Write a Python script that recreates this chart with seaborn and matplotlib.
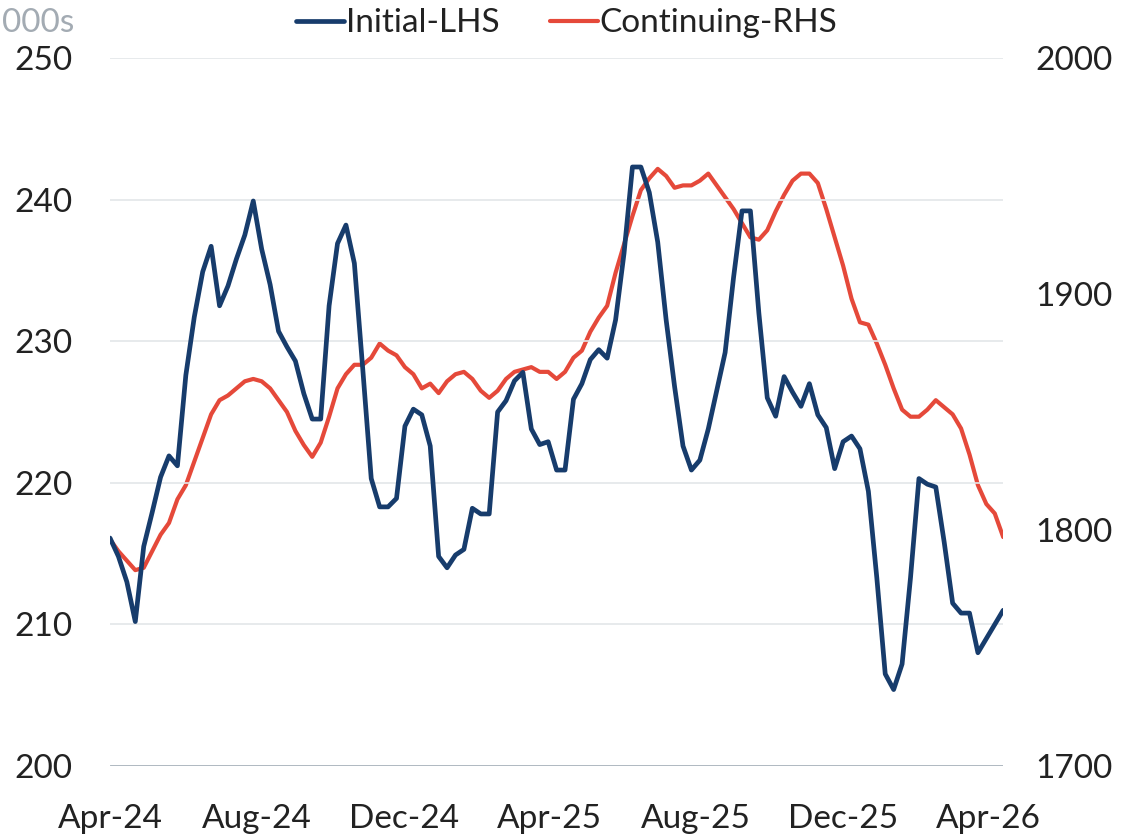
import pandas as pd
import matplotlib.pyplot as plt
import matplotlib.dates as mdates
from matplotlib.ticker import FixedLocator
import seaborn as sns

# Weekly jobless claims, thousands
start_date = '2024-04-06'

initial_lhs = [
    216.1, 214.8, 213.0, 210.2, 215.5, 217.9, 220.4, 221.9, 221.2, 227.6,
    231.7, 234.9, 236.7, 232.5, 233.9, 235.8, 237.5, 239.9, 236.5, 234.0,
    230.7, 229.6, 228.6, 226.3, 224.5, 224.5, 232.5, 236.9, 238.2, 235.5,
    228.0, 220.3, 218.3, 218.3, 218.9, 224.0, 225.2, 224.8, 222.6, 214.8,
    214.0, 214.9, 215.3, 218.2, 217.8, 217.8, 225.0, 225.8, 227.2, 227.8,
    223.8, 222.7, 222.9, 220.9, 220.9, 225.9, 227.0, 228.7, 229.4, 228.8,
    231.5, 236.2, 242.3, 242.3, 240.5, 237.0, 231.5, 226.8, 222.6, 220.9,
    221.6, 223.8, 226.5, 229.2, 234.5, 239.2, 239.2, 232.0, 226.0, 224.7,
    227.5, 226.4, 225.4, 227.0, 224.8, 223.9, 221.0, 222.9, 223.3, 222.4,
    219.4, 213.3, 206.5, 205.4, 207.2, 213.3, 220.3, 219.9, 219.7, 215.8,
    211.5, 210.8, 210.8, 208.0, 209.0, 210.0, 211.0,
]

continuing_rhs = [
    1796, 1791, 1787, 1783, 1784, 1791, 1798, 1803, 1813, 1819,
    1829, 1839, 1849, 1855, 1857, 1860, 1863, 1864, 1863, 1860,
    1855, 1850, 1842, 1836, 1831, 1837, 1848, 1860, 1866, 1870,
    1870, 1873, 1879, 1876, 1874, 1869, 1866, 1860, 1862, 1858,
    1863, 1866, 1867, 1864, 1859, 1856, 1859, 1864, 1867, 1868,
    1869, 1867, 1867, 1864, 1867, 1873, 1876, 1884, 1890, 1895,
    1909, 1921, 1933, 1944, 1949, 1953, 1950, 1945, 1946, 1946,
    1948, 1951, 1946, 1941, 1936, 1930, 1924, 1923, 1927, 1935,
    1942, 1948, 1951, 1951, 1947, 1936, 1924, 1912, 1898, 1888,
    1887, 1879, 1870, 1860, 1851, 1848, 1848, 1851, 1855, 1852,
    1849, 1843, 1832, 1819, 1811, 1807, 1797,
]

left_ticks = [200, 210, 220, 230, 240, 250]
right_ticks = [1700, 1800, 1900, 2000]
tick_dates = ['2024-04-06', '2024-08-06', '2024-12-06', '2025-04-06',
              '2025-08-06', '2025-12-06', '2026-04-06']

dates = pd.date_range(start_date, periods=len(initial_lhs), freq='7D')
df = pd.DataFrame({'date': dates, 'initial': initial_lhs, 'continuing': continuing_rhs})

navy = '#173c6c'
red = '#e5493a'
text_col = '#222222'
fs = 24

sns.set_style('white')
plt.rcParams['font.family'] = ['Lato', 'DejaVu Sans']

fig = plt.figure(figsize=(11.4, 8.35), dpi=100)
ax = fig.add_axes([0.0965, 0.0826, 0.7835, 0.848])
ax2 = ax.twinx()

# gridlines follow the left axis
for t in left_ticks[1:]:
    ax.axhline(t, color='#e3e6e9', lw=1.2, zorder=0)
ax.axhline(200, color='#98a4ae', lw=1.8, zorder=1)

sns.lineplot(data=df, x='date', y='initial', ax=ax, color=navy, lw=3.4,
             label='Initial-LHS', legend=False, zorder=3)
sns.lineplot(data=df, x='date', y='continuing', ax=ax2, color=red, lw=3.0,
             label='Continuing-RHS', legend=False, zorder=2)
ax.set_zorder(ax2.get_zorder() + 1)
ax.patch.set_visible(False)

ax.set_ylim(200, 250)
ax2.set_ylim(1700, 2000)
ax.set_xlim(dates[0], dates[-1])

ax.yaxis.set_major_locator(FixedLocator(left_ticks))
ax2.yaxis.set_major_locator(FixedLocator(right_ticks))
ax.set_xticks(pd.to_datetime(tick_dates))
ax.xaxis.set_major_formatter(mdates.DateFormatter('%b-%y'))

for a in (ax, ax2):
    for s in a.spines.values():
        s.set_visible(False)
    a.set_xlabel('')
    a.set_ylabel('')
    a.tick_params(length=0, labelsize=fs, colors=text_col)

ax.tick_params(axis='y', pad=27)
ax2.tick_params(axis='y', pad=23)
ax.tick_params(axis='x', pad=27)

fig.text(0.002, 0.973, '000s', fontsize=fs, color='#a3abb3', va='center', ha='left')

h1, l1 = ax.get_legend_handles_labels()
h2, l2 = ax2.get_legend_handles_labels()
fig.legend(h1 + h2, l1 + l2, loc='center', bbox_to_anchor=(0.497, 0.972),
           ncol=2, frameon=False, fontsize=fs, handlelength=1.45,
           handletextpad=0.05, columnspacing=1.5, labelcolor=text_col)

plt.savefig('out.png', dpi=100)
plt.close()
